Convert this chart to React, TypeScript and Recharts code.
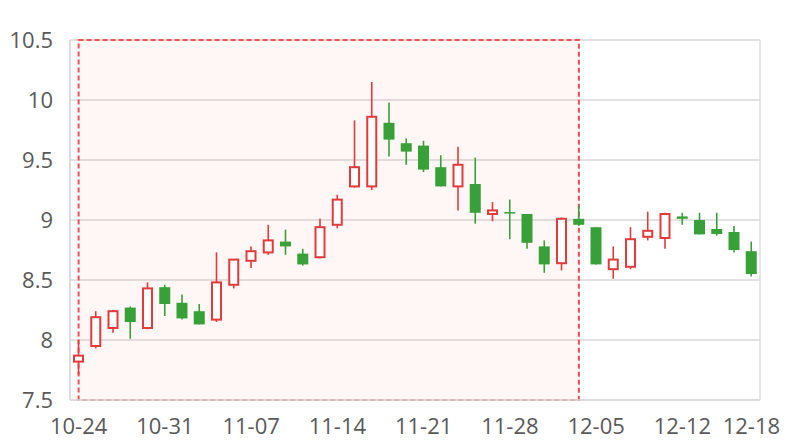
import React from 'react';
import {
  ComposedChart,
  Bar,
  XAxis,
  YAxis,
  CartesianGrid,
  ReferenceArea,
} from 'recharts';

// trading days, 2018-10-24 .. 2018-12-18
const dates = [
  '10-24', '10-25', '10-26', '10-29', '10-30', '10-31', '11-01', '11-02',
  '11-05', '11-06', '11-07', '11-08', '11-09', '11-12', '11-13', '11-14',
  '11-15', '11-16', '11-19', '11-20', '11-21', '11-22', '11-23', '11-26',
  '11-27', '11-28', '11-29', '11-30', '12-03', '12-04', '12-05', '12-06',
  '12-07', '12-10', '12-11', '12-12', '12-13', '12-14', '12-17', '12-18',
];
const opens = [
  7.82, 7.95, 8.10, 8.27, 8.10, 8.44, 8.31, 8.24, 8.17, 8.46,
  8.66, 8.73, 8.82, 8.72, 8.69, 8.96, 9.28, 9.28, 9.81, 9.64,
  9.62, 9.44, 9.28, 9.30, 9.05, 9.066, 9.05, 8.78, 8.64, 9.01,
  8.94, 8.59, 8.61, 8.86, 8.85, 9.03, 9.00, 8.925, 8.90, 8.74,
];
const closes = [
  7.87, 8.19, 8.24, 8.15, 8.43, 8.30, 8.18, 8.13, 8.48, 8.67,
  8.74, 8.83, 8.78, 8.63, 8.94, 9.17, 9.44, 9.86, 9.67, 9.57,
  9.42, 9.28, 9.46, 9.06, 9.08, 9.058, 8.81, 8.63, 9.01, 8.96,
  8.63, 8.67, 8.84, 8.91, 9.05, 9.01, 8.88, 8.883, 8.75, 8.55,
];
const highs = [
  8.00, 8.24, 8.25, 8.28, 8.48, 8.46, 8.38, 8.30, 8.73, 8.67,
  8.78, 8.96, 8.92, 8.76, 9.01, 9.21, 9.83, 10.15, 9.98, 9.68,
  9.66, 9.54, 9.61, 9.52, 9.15, 9.17, 9.05, 8.83, 9.02, 9.12,
  8.94, 8.78, 8.94, 9.07, 9.06, 9.06, 9.06, 9.06, 8.95, 8.82,
];
const lows = [
  7.71, 7.93, 8.06, 8.01, 8.09, 8.20, 8.17, 8.13, 8.15, 8.43,
  8.60, 8.71, 8.71, 8.62, 8.68, 8.93, 9.27, 9.25, 9.53, 9.46,
  9.40, 9.28, 9.08, 8.97, 8.99, 8.84, 8.76, 8.56, 8.58, 8.95,
  8.63, 8.51, 8.59, 8.83, 8.76, 8.96, 8.88, 8.87, 8.73, 8.53,
];
const xTicks = [0, 5, 10, 15, 20, 25, 30, 35, 39];
const yTicks = [7.5, 8, 8.5, 9, 9.5, 10, 10.5];
// marked range: first candle to 12-04
const markStart = 0;
const markEnd = 29;

const UP = '#e23b3b';
const DOWN = '#38a038';
const FONT = '"Open Sans", sans-serif';

const data = dates.map((date, i) => ({
  date,
  idx: i,
  open: opens[i],
  close: closes[i],
  high: highs[i],
  low: lows[i],
}));

const Candle = (props: any) => {
  const { x, y, width, height, payload } = props;
  const { open, close, high, low } = payload;
  const top = Math.min(y, y + height);
  const bot = Math.max(y, y + height);
  const k = high - low > 0 ? (bot - top) / (high - low) : 0;
  const toY = (v: number) => bot - (v - low) * k;
  const cx = x + width / 2;
  const up = close >= open;
  const color = up ? UP : DOWN;
  const bTop = toY(Math.max(open, close));
  const bBot = toY(Math.min(open, close));
  const bh = Math.max(bBot - bTop, 1.5);
  return (
    <g>
      <line x1={cx} x2={cx} y1={top} y2={bot} stroke={color} strokeWidth={1.6} />
      {up ? (
        <rect x={x + 1} y={bTop} width={width - 2} height={bh} fill="#fff" stroke={color} strokeWidth={2} />
      ) : (
        <rect x={x} y={bTop} width={width} height={bh} fill={color} />
      )}
    </g>
  );
};

export default function App() {
  return (
    <div style={{ position: 'absolute', left: 0, top: 0, width: 800, height: 440, background: '#fff' }}>
      <ComposedChart
        width={800}
        height={440}
        data={data}
        margin={{ top: 40, right: 40, bottom: 0, left: 0 }}
      >
        <CartesianGrid
          xAxisId="idx"
          stroke="#d9d9d9"
          strokeWidth={1.3}
          verticalCoordinatesGenerator={({ offset }: any) => [offset.left, offset.left + offset.width]}
        />
        <XAxis xAxisId="cat" dataKey="date" type="category" orientation="top" height={0} hide />
        <XAxis
          xAxisId="idx"
          dataKey="idx"
          type="number"
          domain={[-0.5, dates.length - 0.5]}
          ticks={xTicks}
          tickFormatter={(v: number) => dates[v]}
          interval={0}
          height={40}
          tickLine={false}
          tickSize={0}
          tickMargin={18}
          axisLine={{ stroke: '#d9d9d9', strokeWidth: 1.3 }}
          tick={{ fill: '#595959', fontSize: 22, fontFamily: FONT }}
        />
        <YAxis
          domain={[7.5, 10.5]}
          ticks={yTicks}
          width={70}
          tickLine={false}
          tickSize={0}
          tickMargin={17}
          axisLine={{ stroke: '#d9d9d9', strokeWidth: 1.3 }}
          tick={{ fill: '#595959', fontSize: 22, fontFamily: FONT }}
        />
        <ReferenceArea
          xAxisId="idx"
          x1={markStart}
          x2={markEnd}
          y1={7.5}
          y2={10.5}
          fill="#ff0000"
          fillOpacity={0.035}
          stroke="#f05050"
          strokeWidth={2}
          strokeDasharray="5 3"
          ifOverflow="visible"
        />
        <Bar
          xAxisId="cat"
          dataKey={(d: any) => [d.low, d.high]}
          barSize={11}
          shape={<Candle />}
          isAnimationActive={false}
        />
      </ComposedChart>
    </div>
  );
}
